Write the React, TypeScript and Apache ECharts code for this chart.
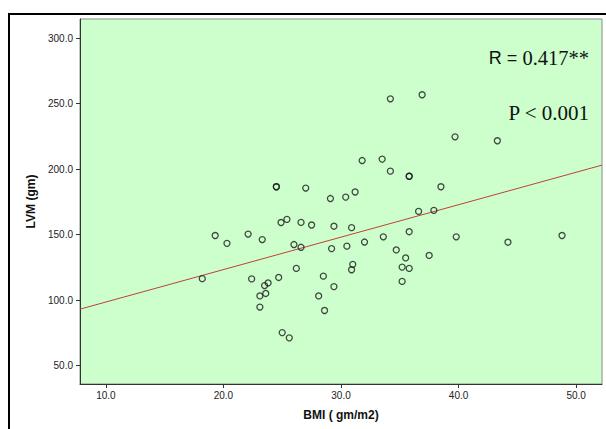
import React, { useEffect, useRef } from "react";
import * as echarts from "echarts";

// BMI (gm/m2), LVM (gm) pairs
const bmi = [
  18.2, 19.3, 20.3, 22.1, 23.3, 24.5, 24.5, 27.0, 24.9, 25.4, 26.6, 27.5, 26.0, 26.6,
  22.4, 24.7, 26.2, 23.5, 23.8, 23.1, 23.6, 28.1, 23.1, 25.0, 25.6, 34.2, 36.9, 31.8,
  33.5, 34.2, 35.8, 35.8, 29.1, 30.4, 31.2, 38.5, 36.6, 37.9, 29.4, 30.9, 35.8, 33.6,
  32.0, 30.5, 29.2, 34.7, 35.5, 37.5, 31.0, 30.9, 35.2, 35.8, 28.5, 29.4, 35.2, 28.6,
  39.7, 43.3, 39.8, 44.2, 48.8,
];
const lvm = [
  116.4, 149.3, 143.3, 150.4, 146.2, 186.5, 186.5, 185.5, 159.2, 161.6, 159.3, 157.3, 142.4, 140.3,
  116.2, 117.3, 124.2, 111.1, 113.1, 103.2, 105.1, 103.2, 94.7, 75.2, 71.2, 253.6, 256.7, 206.5,
  207.6, 198.4, 194.5, 194.5, 177.5, 178.6, 182.5, 186.5, 167.7, 168.5, 156.4, 155.3, 152.2, 148.3,
  144.3, 141.2, 139.3, 138.3, 132.2, 134.1, 127.3, 123.2, 125.2, 124.2, 118.3, 110.3, 114.3, 92.1,
  224.6, 221.6, 148.3, 144.2, 149.3,
];

// Fit line end points
const fitBmi = [7.8, 52.2];
const fitLvm = [93.1, 203.0];

const xTicks = [10, 20, 30, 40, 50];
const yTicks = [50, 100, 150, 200, 250, 300];

const xName = "BMI ( gm/m2)";
const yName = "LVM (gm)";
const pText = "P < 0.001";

export default function App() {
  const ref = useRef<HTMLDivElement>(null);
  useEffect(() => {
    if (!ref.current) return;
    const chart = echarts.init(ref.current, undefined, { renderer: "svg" });
    const points = bmi.map((b, i) => [b, lvm[i]]);
    const fit = fitBmi.map((b, i) => [b, fitLvm[i]]);
    const labelFont = {
      fontFamily: "Liberation Sans",
      fontSize: 10,
      color: "#222",
    };
    const nameFont = {
      fontFamily: "Liberation Sans",
      fontSize: 12,
      fontWeight: "bold",
      color: "#111",
    };
    chart.setOption({
      animation: false,
      backgroundColor: "#fff",
      grid: {
        left: 80,
        top: 19,
        right: 4,
        bottom: 45,
        show: true,
        backgroundColor: "#ccffcc",
        borderColor: "#8a8a8a",
        borderWidth: 1,
      },
      xAxis: {
        type: "value",
        min: 7.8,
        max: 52.2,
        name: xName,
        nameLocation: "middle",
        nameGap: 25,
        nameTextStyle: nameFont,
        axisLine: { show: true, lineStyle: { color: "#333", width: 1 } },
        axisTick: {
          show: true,
          length: 4,
          customValues: xTicks,
          lineStyle: { color: "#333" },
        },
        axisLabel: {
          ...labelFont,
          margin: 6,
          customValues: xTicks,
          formatter: (v: number) => v.toFixed(1),
        },
        splitLine: { show: false },
      },
      yAxis: {
        type: "value",
        min: 36,
        max: 314.5,
        name: yName,
        nameLocation: "middle",
        nameGap: 41,
        nameTextStyle: nameFont,
        axisLine: { show: true, lineStyle: { color: "#333", width: 1 } },
        axisTick: {
          show: true,
          length: 4,
          customValues: yTicks,
          lineStyle: { color: "#333" },
        },
        axisLabel: {
          ...labelFont,
          margin: 7,
          customValues: yTicks,
          formatter: (v: number) => v.toFixed(1),
        },
        splitLine: { show: false },
      },
      series: [
        {
          type: "line",
          data: fit,
          symbol: "none",
          lineStyle: { color: "#c0403a", width: 1 },
          z: 2,
        },
        {
          type: "scatter",
          data: points,
          symbol: "circle",
          symbolSize: 6,
          itemStyle: {
            color: "rgba(0,0,0,0)",
            borderColor: "#1a1a1a",
            borderWidth: 1.3,
          },
          z: 3,
        },
      ],
      graphic: [
        {
          type: "rect",
          shape: { x: 9, y: 14, width: 700, height: 500 },
          style: { fill: "none", stroke: "#000", lineWidth: 2 },
          silent: true,
        },
        {
          type: "text",
          x: 589,
          y: 58,
          style: {
            text: "{a|R = }{b|0.417**}",
            align: "right",
            verticalAlign: "middle",
            rich: {
              a: { fontFamily: "Liberation Sans", fontSize: 18, fill: "#111" },
              b: { fontFamily: "Liberation Serif", fontSize: 20.5, fill: "#111" },
            },
          },
        },
        {
          type: "text",
          x: 589,
          y: 113,
          style: {
            text: pText,
            align: "right",
            verticalAlign: "middle",
            fontFamily: "Liberation Serif",
            fontSize: 21,
            fill: "#111",
          },
        },
      ],
    });
    return () => chart.dispose();
  }, []);
  return (
    <div
      ref={ref}
      style={{ position: "fixed", left: 0, top: 0, width: 606, height: 429 }}
    />
  );
}
